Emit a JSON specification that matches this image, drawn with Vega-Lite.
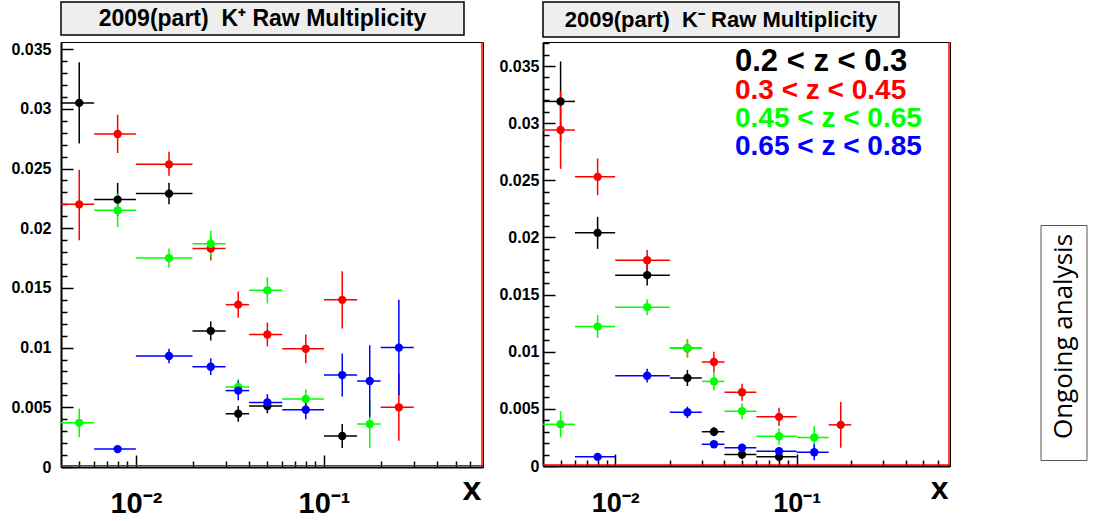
{
  "$schema": "https://vega.github.io/schema/vega-lite/v6.json",
  "background": "white",
  "padding": {"left": 10, "top": 1, "right": 0, "bottom": 0},
  "config": {"font": "Liberation Sans"},
  "datasets": {
    "kplus": [
      {"z":"0.2 < z < 0.3","x":0.005,"xlo":0.004,"xhi":0.006,"y":0.0305,"ylo":0.0271,"yhi":0.0339},
      {"z":"0.2 < z < 0.3","x":0.008,"xlo":0.006,"xhi":0.01,"y":0.0224,"ylo":0.021,"yhi":0.0238},
      {"z":"0.2 < z < 0.3","x":0.015,"xlo":0.01,"xhi":0.02,"y":0.0229,"ylo":0.022,"yhi":0.0238},
      {"z":"0.2 < z < 0.3","x":0.025,"xlo":0.02,"xhi":0.03,"y":0.0114,"ylo":0.0106,"yhi":0.0122},
      {"z":"0.2 < z < 0.3","x":0.035,"xlo":0.03,"xhi":0.04,"y":0.00446,"ylo":0.0038,"yhi":0.0051},
      {"z":"0.2 < z < 0.3","x":0.05,"xlo":0.04,"xhi":0.06,"y":0.0051,"ylo":0.0045,"yhi":0.0057},
      {"z":"0.2 < z < 0.3","x":0.125,"xlo":0.1,"xhi":0.15,"y":0.0026,"ylo":0.0016,"yhi":0.0036},
      {"z":"0.3 < z < 0.45","x":0.005,"xlo":0.004,"xhi":0.006,"y":0.022,"ylo":0.019,"yhi":0.0249},
      {"z":"0.3 < z < 0.45","x":0.008,"xlo":0.006,"xhi":0.01,"y":0.0279,"ylo":0.0263,"yhi":0.0295},
      {"z":"0.3 < z < 0.45","x":0.015,"xlo":0.01,"xhi":0.02,"y":0.02535,"ylo":0.0244,"yhi":0.0264},
      {"z":"0.3 < z < 0.45","x":0.025,"xlo":0.02,"xhi":0.03,"y":0.0183,"ylo":0.0173,"yhi":0.0193},
      {"z":"0.3 < z < 0.45","x":0.035,"xlo":0.03,"xhi":0.04,"y":0.0136,"ylo":0.0125,"yhi":0.0147},
      {"z":"0.3 < z < 0.45","x":0.05,"xlo":0.04,"xhi":0.06,"y":0.0111,"ylo":0.0101,"yhi":0.0121},
      {"z":"0.3 < z < 0.45","x":0.08,"xlo":0.06,"xhi":0.1,"y":0.0099,"ylo":0.0087,"yhi":0.0111},
      {"z":"0.3 < z < 0.45","x":0.125,"xlo":0.1,"xhi":0.15,"y":0.014,"ylo":0.0116,"yhi":0.0164},
      {"z":"0.3 < z < 0.45","x":0.25,"xlo":0.2,"xhi":0.3,"y":0.005,"ylo":0.0022,"yhi":0.0078},
      {"z":"0.45 < z < 0.65","x":0.005,"xlo":0.004,"xhi":0.006,"y":0.0037,"ylo":0.0025,"yhi":0.0049},
      {"z":"0.45 < z < 0.65","x":0.008,"xlo":0.006,"xhi":0.01,"y":0.0215,"ylo":0.0201,"yhi":0.0229},
      {"z":"0.45 < z < 0.65","x":0.015,"xlo":0.01,"xhi":0.02,"y":0.0175,"ylo":0.0167,"yhi":0.0183},
      {"z":"0.45 < z < 0.65","x":0.025,"xlo":0.02,"xhi":0.03,"y":0.0187,"ylo":0.0176,"yhi":0.0198},
      {"z":"0.45 < z < 0.65","x":0.035,"xlo":0.03,"xhi":0.04,"y":0.0067,"ylo":0.006,"yhi":0.0074},
      {"z":"0.45 < z < 0.65","x":0.05,"xlo":0.04,"xhi":0.06,"y":0.0148,"ylo":0.0137,"yhi":0.0159},
      {"z":"0.45 < z < 0.65","x":0.08,"xlo":0.06,"xhi":0.1,"y":0.0057,"ylo":0.0049,"yhi":0.0065},
      {"z":"0.45 < z < 0.65","x":0.175,"xlo":0.15,"xhi":0.2,"y":0.0036,"ylo":0.0016,"yhi":0.0056},
      {"z":"0.65 < z < 0.85","x":0.008,"xlo":0.006,"xhi":0.01,"y":0.0015,"ylo":0.0012,"yhi":0.0018},
      {"z":"0.65 < z < 0.85","x":0.015,"xlo":0.01,"xhi":0.02,"y":0.0093,"ylo":0.0087,"yhi":0.0099},
      {"z":"0.65 < z < 0.85","x":0.025,"xlo":0.02,"xhi":0.03,"y":0.0084,"ylo":0.0077,"yhi":0.0091},
      {"z":"0.65 < z < 0.85","x":0.035,"xlo":0.03,"xhi":0.04,"y":0.0064,"ylo":0.0056,"yhi":0.0072},
      {"z":"0.65 < z < 0.85","x":0.05,"xlo":0.04,"xhi":0.06,"y":0.0054,"ylo":0.0047,"yhi":0.0061},
      {"z":"0.65 < z < 0.85","x":0.08,"xlo":0.06,"xhi":0.1,"y":0.0048,"ylo":0.004,"yhi":0.0056},
      {"z":"0.65 < z < 0.85","x":0.125,"xlo":0.1,"xhi":0.15,"y":0.0077,"ylo":0.0059,"yhi":0.0095},
      {"z":"0.65 < z < 0.85","x":0.175,"xlo":0.15,"xhi":0.2,"y":0.0072,"ylo":0.0042,"yhi":0.0102},
      {"z":"0.65 < z < 0.85","x":0.25,"xlo":0.2,"xhi":0.3,"y":0.01,"ylo":0.006,"yhi":0.014}
    ],
    "kminus": [
      {"z":"0.2 < z < 0.3","x":0.005,"xlo":0.004,"xhi":0.006,"y":0.0319,"ylo":0.0284,"yhi":0.0354},
      {"z":"0.2 < z < 0.3","x":0.008,"xlo":0.006,"xhi":0.01,"y":0.0204,"ylo":0.019,"yhi":0.0218},
      {"z":"0.2 < z < 0.3","x":0.015,"xlo":0.01,"xhi":0.02,"y":0.0167,"ylo":0.0158,"yhi":0.0176},
      {"z":"0.2 < z < 0.3","x":0.025,"xlo":0.02,"xhi":0.03,"y":0.0077,"ylo":0.007,"yhi":0.0084},
      {"z":"0.2 < z < 0.3","x":0.035,"xlo":0.03,"xhi":0.04,"y":0.003,"ylo":0.0026,"yhi":0.0034},
      {"z":"0.2 < z < 0.3","x":0.05,"xlo":0.04,"xhi":0.06,"y":0.001,"ylo":0.0006,"yhi":0.0014},
      {"z":"0.2 < z < 0.3","x":0.08,"xlo":0.06,"xhi":0.1,"y":0.0008,"ylo":0.0004,"yhi":0.0012},
      {"z":"0.3 < z < 0.45","x":0.005,"xlo":0.004,"xhi":0.006,"y":0.0294,"ylo":0.026,"yhi":0.0328},
      {"z":"0.3 < z < 0.45","x":0.008,"xlo":0.006,"xhi":0.01,"y":0.0253,"ylo":0.0237,"yhi":0.0269},
      {"z":"0.3 < z < 0.45","x":0.015,"xlo":0.01,"xhi":0.02,"y":0.018,"ylo":0.0171,"yhi":0.0189},
      {"z":"0.3 < z < 0.45","x":0.025,"xlo":0.02,"xhi":0.03,"y":0.0103,"ylo":0.0095,"yhi":0.0111},
      {"z":"0.3 < z < 0.45","x":0.035,"xlo":0.03,"xhi":0.04,"y":0.0091,"ylo":0.0082,"yhi":0.01},
      {"z":"0.3 < z < 0.45","x":0.05,"xlo":0.04,"xhi":0.06,"y":0.00645,"ylo":0.0057,"yhi":0.0072},
      {"z":"0.3 < z < 0.45","x":0.08,"xlo":0.06,"xhi":0.1,"y":0.0043,"ylo":0.0035,"yhi":0.0051},
      {"z":"0.3 < z < 0.45","x":0.175,"xlo":0.15,"xhi":0.2,"y":0.0036,"ylo":0.0016,"yhi":0.0056},
      {"z":"0.45 < z < 0.65","x":0.005,"xlo":0.004,"xhi":0.006,"y":0.00365,"ylo":0.0025,"yhi":0.0048},
      {"z":"0.45 < z < 0.65","x":0.008,"xlo":0.006,"xhi":0.01,"y":0.0122,"ylo":0.0112,"yhi":0.0132},
      {"z":"0.45 < z < 0.65","x":0.015,"xlo":0.01,"xhi":0.02,"y":0.0139,"ylo":0.0132,"yhi":0.0146},
      {"z":"0.45 < z < 0.65","x":0.025,"xlo":0.02,"xhi":0.03,"y":0.0103,"ylo":0.0095,"yhi":0.0111},
      {"z":"0.45 < z < 0.65","x":0.035,"xlo":0.03,"xhi":0.04,"y":0.0074,"ylo":0.0066,"yhi":0.0082},
      {"z":"0.45 < z < 0.65","x":0.05,"xlo":0.04,"xhi":0.06,"y":0.0048,"ylo":0.0041,"yhi":0.0055},
      {"z":"0.45 < z < 0.65","x":0.08,"xlo":0.06,"xhi":0.1,"y":0.0026,"ylo":0.0019,"yhi":0.0033},
      {"z":"0.45 < z < 0.65","x":0.125,"xlo":0.1,"xhi":0.15,"y":0.0025,"ylo":0.0015,"yhi":0.0035},
      {"z":"0.65 < z < 0.85","x":0.008,"xlo":0.006,"xhi":0.01,"y":0.0008,"ylo":0.0006,"yhi":0.001},
      {"z":"0.65 < z < 0.85","x":0.015,"xlo":0.01,"xhi":0.02,"y":0.0079,"ylo":0.0073,"yhi":0.0085},
      {"z":"0.65 < z < 0.85","x":0.025,"xlo":0.02,"xhi":0.03,"y":0.0047,"ylo":0.0042,"yhi":0.0052},
      {"z":"0.65 < z < 0.85","x":0.035,"xlo":0.03,"xhi":0.04,"y":0.0019,"ylo":0.0016,"yhi":0.0022},
      {"z":"0.65 < z < 0.85","x":0.05,"xlo":0.04,"xhi":0.06,"y":0.0016,"ylo":0.0013,"yhi":0.0019},
      {"z":"0.65 < z < 0.85","x":0.08,"xlo":0.06,"xhi":0.1,"y":0.0013,"ylo":0.001,"yhi":0.0016},
      {"z":"0.65 < z < 0.85","x":0.125,"xlo":0.1,"xhi":0.15,"y":0.0012,"ylo":0.0005,"yhi":0.0019}
    ]
  },
  "spacing": 14,
  "hconcat": [
    {
      "bounds": "flush",
      "spacing": 7,
      "vconcat": [
        {
          "width": 403, "height": 33,
          "view": {"fill": "#eeeeee", "stroke": "black", "strokeWidth": 1.5},
          "data": {"values": [{"t": "2009(part)\u00a0 K⁺ Raw Multiplicity"}]},
          "mark": {"type": "text", "font": "Liberation Sans", "fontWeight": "bold", "fontSize": 23, "baseline": "middle", "color": "black"},
          "encoding": {"text": {"field": "t"}}
        },
        {
          "width": 422, "height": 425,
          "view": {"stroke": "black", "strokeWidth": 1},
          "data": {"name": "kplus"},
          "encoding": {
            "color": {"field": "z", "type": "nominal",
              "scale": {"domain": ["0.2 < z < 0.3", "0.3 < z < 0.45", "0.45 < z < 0.65", "0.65 < z < 0.85"], "range": ["#000000", "#ff0000", "#00ff00", "#0000ff"]},
              "legend": {"orient": "none", "legendX": 646, "legendY": 46, "title": null, "symbolSize": 0, "symbolStrokeWidth": 0, "symbolOpacity": 0, "labelOffset": 0, "labelFontSize": 28, "labelFont": "Liberation Sans", "labelFontWeight": "bold", "labelLimit": 600, "rowPadding": 0, "padding": 0,
                "encode": {"labels": {"update": {"fill": {"signal": "scale('color', datum.value)"}, "fontSize": {"signal": "datum.index === 0 ? 31 : 28"}}}}}
            }
          },
          "layer": [
            {
              "mark": {"type": "rule", "strokeWidth": 1.5},
              "encoding": {
                "x": {"field": "xlo", "type": "quantitative", "scale": {"type": "log", "domain": [0.004, 0.7], "nice": false},
                  "axis": {"orient": "bottom", "values": [0.01, 0.1], "labelExpr": "datum.value < 0.05 ? '10⁻²' : '10⁻¹'", "tickSize": -12, "tickWidth": 1.5, "tickColor": "black", "labelPadding": 57, "labelBaseline": "alphabetic", "labelFontSize": 29, "labelFontWeight": "bold", "labelColor": "black", "labelFlush": false, "labelOverlap": false, "domainColor": "black", "domainWidth": 2, "grid": false,
                    "title": "x", "titleFontSize": 34, "titleFontWeight": "bold", "titleColor": "black", "titleAnchor": "end", "titleAlign": "right", "titleX": 420, "titleY": 32, "titleBaseline": "alphabetic"}},
                "x2": {"field": "xhi"},
                "y": {"field": "y", "type": "quantitative", "scale": {"domain": [0, 0.0356], "nice": false, "zero": false},
                  "axis": {"orient": "left", "values": [0, 0.005, 0.01, 0.015, 0.02, 0.025, 0.03, 0.035], "format": "~g", "tickSize": -12, "tickWidth": 1.5, "tickColor": "black", "labelPadding": 22, "labelFontSize": 16, "labelFontWeight": "bold", "labelColor": "black", "labelFlush": false, "labelOverlap": false, "domainColor": "black", "domainWidth": 2, "grid": false, "title": null}}
              }
            },
            {
              "mark": {"type": "rule", "strokeWidth": 1.5},
              "encoding": {
                "x": {"field": "x", "type": "quantitative",
                  "axis": {"orient": "bottom", "values": [0.005, 0.006, 0.007, 0.008, 0.009, 0.02, 0.03, 0.04, 0.05, 0.06, 0.07, 0.08, 0.09, 0.2, 0.3, 0.4, 0.5, 0.6], "tickSize": -6, "tickWidth": 1.5, "tickColor": "black", "labels": false, "domain": false, "grid": false, "title": null}},
                "y": {"field": "ylo", "type": "quantitative",
                  "axis": {"orient": "left", "values": [0.001, 0.002, 0.003, 0.004, 0.006, 0.007, 0.008, 0.009, 0.011, 0.012, 0.013, 0.014, 0.016, 0.017, 0.018, 0.019, 0.021, 0.022, 0.023, 0.024, 0.026, 0.027, 0.028, 0.029, 0.031, 0.032, 0.033, 0.034], "tickSize": -6, "tickWidth": 1.5, "tickColor": "black", "labels": false, "domain": false, "grid": false, "title": null}},
                "y2": {"field": "yhi"}
              }
            },
            {
              "mark": {"type": "circle", "size": 70, "opacity": 1},
              "encoding": {
                "x": {"field": "x", "type": "quantitative", "axis": null},
                "y": {"field": "y", "type": "quantitative", "axis": null}
              }
            },
            {
              "data": {"values": [{}]},
              "mark": {"type": "rule", "strokeWidth": 1.5, "xOffset": -1},
              "encoding": {"x": {"datum": 0.7, "axis": null}, "color": {"value": "#ff0000"}}
            },
            {
              "data": {"values": [{}]},
              "mark": {"type": "rule", "strokeWidth": 1, "yOffset": -1.5},
              "encoding": {"y": {"datum": 0, "axis": null}, "color": {"value": "#ff0000"}}
            }
          ],
          "resolve": {"axis": {"x": "independent", "y": "independent"}}
        }
      ]
    },
    {
      "bounds": "flush",
      "spacing": 5,
      "vconcat": [
        {
          "width": 356, "height": 35,
          "view": {"fill": "#eeeeee", "stroke": "black", "strokeWidth": 1.5},
          "data": {"values": [{"t": "2009(part)\u00a0 K⁻ Raw Multiplicity"}]},
          "mark": {"type": "text", "font": "Liberation Sans", "fontWeight": "bold", "fontSize": 22, "baseline": "middle", "color": "black"},
          "encoding": {"text": {"field": "t"}}
        },
        {
          "width": 407, "height": 424,
          "view": {"stroke": "black", "strokeWidth": 1},
          "data": {"name": "kminus"},
          "encoding": {
            "color": {"field": "z", "type": "nominal",
              "scale": {"domain": ["0.2 < z < 0.3", "0.3 < z < 0.45", "0.45 < z < 0.65", "0.65 < z < 0.85"], "range": ["#000000", "#ff0000", "#00ff00", "#0000ff"]},
              "legend": {"orient": "none", "legendX": 646, "legendY": 46, "title": null, "symbolSize": 0, "symbolStrokeWidth": 0, "symbolOpacity": 0, "labelOffset": 0, "labelFontSize": 28, "labelFont": "Liberation Sans", "labelFontWeight": "bold", "labelLimit": 600, "rowPadding": 0, "padding": 0,
                "encode": {"labels": {"update": {"fill": {"signal": "scale('color', datum.value)"}, "fontSize": {"signal": "datum.index === 0 ? 31 : 28"}}}}}
            }
          },
          "layer": [
            {
              "mark": {"type": "rule", "strokeWidth": 1.5},
              "encoding": {
                "x": {"field": "xlo", "type": "quantitative", "scale": {"type": "log", "domain": [0.004, 0.7], "nice": false},
                  "axis": {"orient": "bottom", "values": [0.01, 0.1], "labelExpr": "datum.value < 0.05 ? '10⁻²' : '10⁻¹'", "tickSize": -12, "tickWidth": 1.5, "tickColor": "black", "labelPadding": 57, "labelBaseline": "alphabetic", "labelFontSize": 27, "labelFontWeight": "bold", "labelColor": "black", "labelFlush": false, "labelOverlap": false, "domainColor": "black", "domainWidth": 2, "grid": false,
                    "title": "x", "titleFontSize": 32, "titleFontWeight": "bold", "titleColor": "black", "titleAnchor": "end", "titleAlign": "right", "titleX": 405, "titleY": 32, "titleBaseline": "alphabetic"}},
                "x2": {"field": "xhi"},
                "y": {"field": "y", "type": "quantitative", "scale": {"domain": [0, 0.0371], "nice": false, "zero": false},
                  "axis": {"orient": "left", "values": [0, 0.005, 0.01, 0.015, 0.02, 0.025, 0.03, 0.035], "format": "~g", "tickSize": -12, "tickWidth": 1.5, "tickColor": "black", "labelPadding": 16, "labelFontSize": 16, "labelFontWeight": "bold", "labelColor": "black", "labelFlush": false, "labelOverlap": false, "domainColor": "black", "domainWidth": 2, "grid": false, "title": null}}
              }
            },
            {
              "mark": {"type": "rule", "strokeWidth": 1.5},
              "encoding": {
                "x": {"field": "x", "type": "quantitative",
                  "axis": {"orient": "bottom", "values": [0.005, 0.006, 0.007, 0.008, 0.009, 0.02, 0.03, 0.04, 0.05, 0.06, 0.07, 0.08, 0.09, 0.2, 0.3, 0.4, 0.5, 0.6], "tickSize": -6, "tickWidth": 1.5, "tickColor": "black", "labels": false, "domain": false, "grid": false, "title": null}},
                "y": {"field": "ylo", "type": "quantitative",
                  "axis": {"orient": "left", "values": [0.001, 0.002, 0.003, 0.004, 0.006, 0.007, 0.008, 0.009, 0.011, 0.012, 0.013, 0.014, 0.016, 0.017, 0.018, 0.019, 0.021, 0.022, 0.023, 0.024, 0.026, 0.027, 0.028, 0.029, 0.031, 0.032, 0.033, 0.034, 0.036, 0.037], "tickSize": -6, "tickWidth": 1.5, "tickColor": "black", "labels": false, "domain": false, "grid": false, "title": null}},
                "y2": {"field": "yhi"}
              }
            },
            {
              "mark": {"type": "circle", "size": 70, "opacity": 1},
              "encoding": {
                "x": {"field": "x", "type": "quantitative", "axis": null},
                "y": {"field": "y", "type": "quantitative", "axis": null}
              }
            },
            {
              "data": {"values": [{}]},
              "mark": {"type": "rule", "strokeWidth": 1.5, "xOffset": -1},
              "encoding": {"x": {"datum": 0.7, "axis": null}, "color": {"value": "#ff0000"}}
            },
            {
              "data": {"values": [{}]},
              "mark": {"type": "rule", "strokeWidth": 1.5, "yOffset": -1},
              "encoding": {"y": {"datum": 0, "axis": null}, "color": {"value": "#ff0000"}}
            }
          ],
          "resolve": {"axis": {"x": "independent", "y": "independent"}}
        }
      ]
    },
    {
      "bounds": "flush",
      "spacing": 0,
      "center": true,
      "vconcat": [
        {
          "width": 195, "height": 223,
          "view": {"fill": "white", "stroke": null},
          "data": {"values": [{"t": ""}]},
          "mark": {"type": "text"},
          "encoding": {"text": {"field": "t"}}
        },
        {
          "width": 46, "height": 235,
          "view": {"fill": "white", "stroke": "#555555", "strokeWidth": 1},
          "data": {"values": [{"t": "Ongoing analysis"}]},
          "mark": {"type": "text", "angle": 270, "font": "Open Sans", "fontSize": 26, "color": "black", "baseline": "middle", "align": "center", "dx": 6},
          "encoding": {"text": {"field": "t"}}
        }
      ]
    }
  ]
}
